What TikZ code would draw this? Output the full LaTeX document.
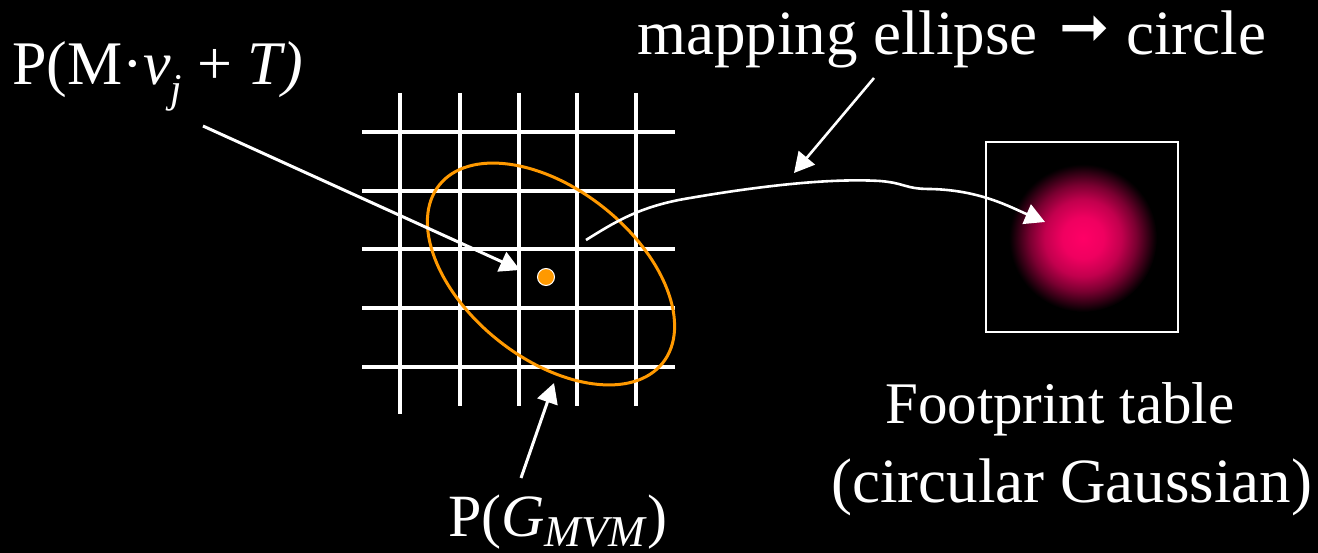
\documentclass[tikz,border=0pt]{standalone}
\usepackage{fontspec}
\setmainfont{Liberation Serif}
\newfontfamily\djv{DejaVu Sans}
\usetikzlibrary{arrows.meta}
\definecolor{gpink}{RGB}{255,0,102}
\definecolor{ellorange}{RGB}{255,153,0}
\pgfdeclareradialshading{gauss}{\pgfpoint{0bp}{0bp}}{color(0bp)=(gpink); color(7bp)=(gpink!94!black); color(13bp)=(gpink!76!black); color(18bp)=(gpink!48!black); color(22bp)=(gpink!20!black); color(24bp)=(gpink!6!black); color(25bp)=(black); color(50bp)=(black)}
\tikzset{
  gridline/.style={white, line width=3.3pt},
  arr/.style={white, line width=3pt, -{Triangle[length=20pt,width=21pt]}},
  lbl/.style={text=white, inner sep=0pt, anchor=base west},
}
\newcommand{\fs}[1]{\fontsize{#1}{#1}\selectfont}
\begin{document}
\begin{tikzpicture}[x=1pt,y=-1pt]
\fill[black] (0,0) rectangle (1318,553);
\useasboundingbox (0,0) rectangle (1318,553);

% grid
\draw[gridline] (400,93) -- (400,414);
\foreach \x in {460,519,577,636} \draw[gridline] (\x,93) -- (\x,406);
\foreach \y in {132,191,249,308,367} \draw[gridline] (362,\y) -- (675,\y);

% ellipse and point
\draw[ellorange, line width=3pt, rotate around={-38.5:(551,274)}] (551,274) ellipse [x radius=142.8, y radius=84.8];
\node[circle, fill=ellorange, draw=white, line width=1pt, minimum size=17pt, inner sep=0pt] (dot) at (546,277) {};

% footprint table
\node[circle, minimum size=148pt, inner sep=0pt, shade, shading=gauss] (blob) at (1083,238) {};
\node[draw=white, line width=2.8pt, minimum width=192pt, minimum height=190pt, inner sep=0pt] (box) at (1082,237) {};

% labels
\node[lbl, font=\fs{62}] (lblP) at (12,85) {P(M·\textit{v}\raisebox{-18pt}{\fs{41}\textit{j}} + \textit{T)}};
\node[lbl, font=\fs{63}] (lblmap) at (637,55) {mapping ellipse\hspace{22pt}\raisebox{7pt}{\djv\fs{60}➞}\hspace{16pt}circle};
\node[lbl, font=\fs{59}] (lblfoot) at (885,423) {Footprint table};
\node[lbl, font=\fs{63}] (lblcirc) at (831,502) {(circular Gaussian)};
\node[lbl, font=\fs{60}] (lblG) at (448,536) {P(\textit{G}\raisebox{-10pt}{\fs{44}\textit{MVM}})};

% connectors
\coordinate (s1) at (203,126);
\coordinate (t1) at (520,270);
\draw[arr] (s1) -- (t1);
\coordinate (s2) at (521,478);
\coordinate (t2) at (554,383);
\draw[arr] (s2) -- (t2);
\coordinate (s3) at (874,78);
\coordinate (t3) at (794,173);
\draw[arr, line width=2.6pt] (s3) -- (t3);
\coordinate (cs) at (586,240);
\coordinate (c1) at (690,198);
\coordinate (c2) at (880,181);
\coordinate (c3) at (930,189);
\coordinate (ct) at (1045,222);
\draw[arr, line width=2.6pt] (cs) .. controls (615,222) and (640,206) .. (c1)
  .. controls (760,186) and (830,178) .. (c2)
  .. controls (905,183) and (905,189) .. (c3)
  .. controls (980,190) and (1010,207) .. (ct);
\end{tikzpicture}
\end{document}
